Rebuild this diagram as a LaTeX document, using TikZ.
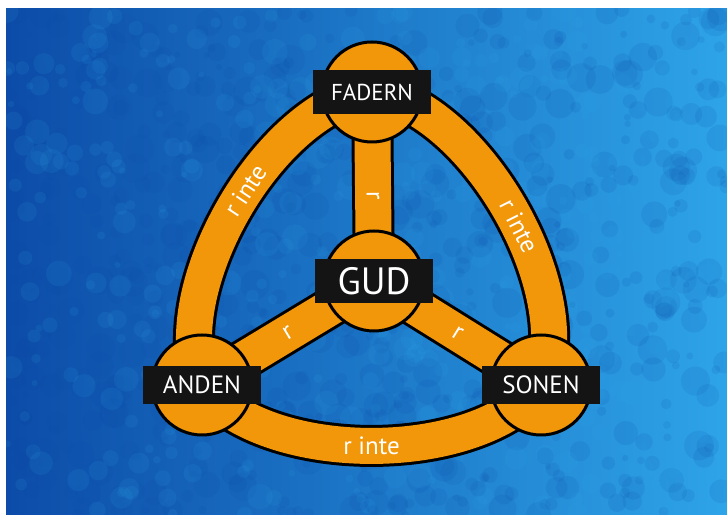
\documentclass[tikz,border=0pt]{standalone}
\usepackage{fontspec}
\setmainfont{PT Sans}
\usetikzlibrary{backgrounds}
\definecolor{skyblue}{RGB}{22,122,212}
\definecolor{deepblue}{RGB}{12,76,168}
\definecolor{paleblue}{RGB}{46,164,232}
\definecolor{bandorange}{RGB}{242,150,10}
\tikzset{
  hub/.style={circle, draw=black, line width=3pt, fill=bandorange,
    minimum size=100pt, inner sep=0pt},
  tag/.style={fill=black!92, text=white, minimum width=118pt,
    minimum height=38pt, inner sep=0pt, font=\fontsize{25}{25}\selectfont},
  band/.style={line width=3pt, draw=black, double=bandorange, double distance=36pt},
  ring/.style={band, looseness=0.78},
  rel/.style={text=white, sloped, font=\fontsize{25}{25}\selectfont}
}

\begin{document}
\begin{tikzpicture}[x=1pt, y=1pt]
    \useasboundingbox (0,0) rectangle (727,518);
    % persons of the trinity
    \node[hub] (fadern) at (372,426) {};
    \node[hub] (gud) at (374,237) {};
    \node[hub] (anden) at (202,133) {};
    \node[hub] (sonen) at (541,133) {};
    \node[tag, minimum height=44pt, font=\fontsize{23}{23}\selectfont] (fadern-tag) at (fadern) {FADERN};
    \node[tag, minimum height=44pt, font=\fontsize{38}{38}\selectfont] (gud-tag) at (gud) {GUD};
    \node[tag] (anden-tag) at (anden) {ANDEN};
    \node[tag] (sonen-tag) at (sonen) {SONEN};
    \begin{scope}[on background layer]
      \fill[white] (0,0) rectangle (727,518);
      \begin{scope}
        \clip (6,3) rectangle (727,509);
        \shade[left color=deepblue, middle color=skyblue, right color=paleblue] (6,3) rectangle (727,509);
        \pgfmathsetseed{11}
        \foreach \k in {1,...,700}{
          \pgfmathsetmacro{\bx}{6+rnd*721}
          \pgfmathsetmacro{\by}{3+rnd*506}
          \pgfmathsetmacro{\br}{3+rnd*12}
          \fill[deepblue, opacity=0.12] (\bx,\by) circle[radius=\br];
        }
        \foreach \k in {1,...,450}{
          \pgfmathsetmacro{\bx}{6+rnd*721}
          \pgfmathsetmacro{\by}{3+rnd*506}
          \pgfmathsetmacro{\br}{3+rnd*10}
          \fill[paleblue, opacity=0.12] (\bx,\by) circle[radius=\br];
        }
      \end{scope}
      % outer ring
      \draw[ring] (anden.center) to[bend left=52] node[rel, pos=0.55] {r inte} (fadern.center);
      \draw[ring] (fadern.center) to[bend left=52] node[rel, pos=0.55] {r inte} (sonen.center);
      \draw[ring] (anden.center) to[bend right=52] node[rel] {r inte} (sonen.center);
      % spokes
      \draw[band] (fadern.center) -- node[rel, pos=0.55] {r} (gud.center);
      \draw[band] (anden.center) -- node[rel] {r} (gud.center);
      \draw[band] (gud.center) -- node[rel] {r} (sonen.center);
    \end{scope}
\end{tikzpicture}
\end{document}
